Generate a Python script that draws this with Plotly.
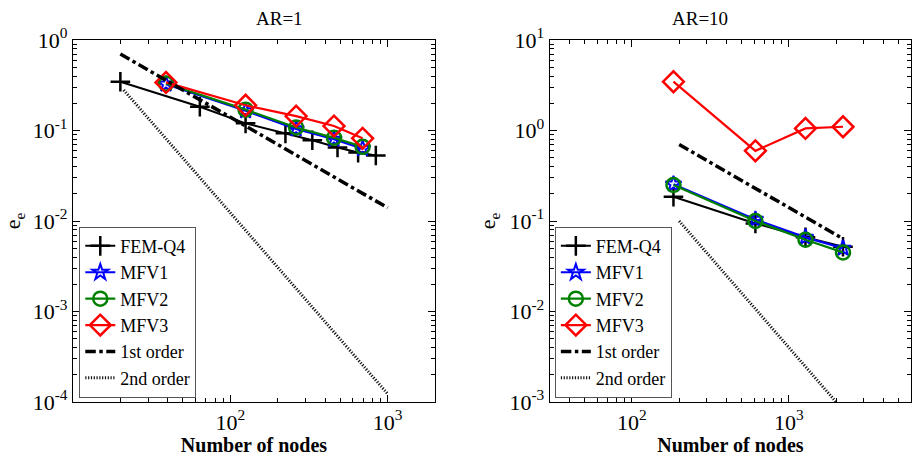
import plotly.graph_objects as go

# ---------------- data ----------------
# AR = 1
n_fem_ar1 = [20, 64, 125, 224, 332, 480, 649, 841]
e_fem_ar1 = [0.346, 0.183, 0.120, 0.093, 0.078, 0.065, 0.057, 0.053]
n_mfv_ar1 = [39, 125, 262, 456, 693]
e_mfv1_ar1 = [0.325, 0.165, 0.104, 0.080, 0.063]
e_mfv2_ar1 = [0.330, 0.170, 0.108, 0.083, 0.066]
e_mfv3_ar1 = [0.340, 0.190, 0.144, 0.112, 0.082]
n_o1_ar1 = [20, 1000]
e_o1_ar1 = [0.7, 0.014]
n_o2_ar1 = [21, 1000]
e_o2_ar1 = [0.28, 1.23e-4]

# AR = 10
n_ar10 = [184, 612, 1276, 2213]
e_fem_ar10 = [0.185, 0.094, 0.066, 0.052]
e_mfv1_ar10 = [0.255, 0.104, 0.066, 0.050]
e_mfv2_ar10 = [0.250, 0.100, 0.062, 0.045]
e_mfv3_ar10 = [3.46, 0.596, 1.055, 1.10]
n_o1_ar10 = [200, 2200]
e_o1_ar10 = [0.7, 0.064]
n_o2_ar10 = [200, 2000]
e_o2_ar10 = [0.1, 0.001]

names = ["FEM-Q4", "MFV1", "MFV2", "MFV3", "1st order", "2nd order"]
titles = ["AR=1", "AR=10"]
x_label = "Number of nodes"
y_label = "e<sub>e</sub>"

FONT = "Liberation Serif"

styles = [
    dict(line=dict(color="black", width=2), marker=dict(symbol="cross-thin-open", size=14, line=dict(color="black", width=2.5))),
    dict(line=dict(color="#0000ff", width=2.2), marker=dict(symbol="star-open", size=12, color="#0000ff", line=dict(color="#0000ff", width=2))),
    dict(line=dict(color="#008000", width=2.2), marker=dict(symbol="circle-open", size=14, color="#008000", line=dict(color="#008000", width=2.5))),
    dict(line=dict(color="#ff0000", width=2.2), marker=dict(symbol="diamond-open", size=16, color="#ff0000", line=dict(color="#ff0000", width=2.5))),
    dict(line=dict(color="black", width=3.5, dash="dashdot"), mode="lines"),
    dict(line=dict(color="#111111", width=3, dash="1.2px,1.6px"), mode="lines"),
]

fig = go.Figure()

panels = [
    dict(xa="x", ya="y", legend="legend", mxa="x3", mya="y3",
         series=[(n_fem_ar1, e_fem_ar1), (n_mfv_ar1, e_mfv1_ar1), (n_mfv_ar1, e_mfv2_ar1),
                 (n_mfv_ar1, e_mfv3_ar1), (n_o1_ar1, e_o1_ar1), (n_o2_ar1, e_o2_ar1)]),
    dict(xa="x2", ya="y2", legend="legend2", mxa="x4", mya="y4",
         series=[(n_ar10, e_fem_ar10), (n_ar10, e_mfv1_ar10), (n_ar10, e_mfv2_ar10),
                 (n_ar10, e_mfv3_ar10), (n_o1_ar10, e_o1_ar10), (n_o2_ar10, e_o2_ar10)]),
]

for p in panels:
    # invisible helper trace so that the minor-tick overlay axes get drawn
    xs0, ys0 = p["series"][0]
    fig.add_trace(go.Scatter(x=xs0, y=ys0, mode="markers", marker=dict(opacity=0), showlegend=False,
                             hoverinfo="skip", xaxis=p["mxa"], yaxis=p["mya"]))
    for name, (xs, ys), st in zip(names, p["series"], styles):
        kw = dict(st)
        mode = kw.pop("mode", "lines+markers")
        fig.add_trace(go.Scatter(x=xs, y=ys, name=name, mode=mode, xaxis=p["xa"], yaxis=p["ya"],
                                 legend=p["legend"], **kw))


def sup(e):
    return "10<sup>%s</sup>" % (str(e))


def minor_vals(lo, hi):
    vals = []
    for d in range(lo, hi):
        for m in range(2, 10):
            vals.append(m * 10 ** d)
    return vals


axis_common = dict(
    type="log", showline=True, linecolor="black", linewidth=1.2, mirror="allticks",
    ticks="inside", ticklen=7, tickcolor="black", showgrid=False, zeroline=False,
    tickfont=dict(family=FONT, size=22, color="black"),
)
minor_axis = dict(
    type="log", showline=False, mirror="allticks",
    ticks="inside", ticklen=4, tickwidth=1, tickcolor="black", showgrid=False, zeroline=False,
    showticklabels=False, tickmode="array",
)

xtitle = dict(text="<b>%s</b>" % x_label, font=dict(family=FONT, size=20, color="black"), standoff=2)
ytitle = dict(text=y_label, font=dict(family=FONT, size=22, color="black"), standoff=7)

x1_range = [1, 3.30103]
y1_range = [-4, 0]
x2_range = [1.4771, 3.77815]
y2_range = [-3, 1]

fig.update_layout(
    xaxis=dict(domain=[0, 0.432], range=x1_range, tickmode="array",
               tickvals=[100, 1000], ticktext=[sup(2), sup(3)],
               title=xtitle, anchor="y", **axis_common),
    yaxis=dict(domain=[0, 1], range=y1_range, tickmode="array",
               tickvals=[1e-4, 1e-3, 1e-2, 1e-1, 1], ticktext=[sup(-4), sup(-3), sup(-2), sup(-1), sup(0)],
               title=ytitle, anchor="x", **axis_common),
    xaxis2=dict(domain=[0.569, 1], range=x2_range, tickmode="array",
                tickvals=[100, 1000], ticktext=[sup(2), sup(3)],
                title=xtitle, anchor="y2", **axis_common),
    yaxis2=dict(domain=[0, 1], range=y2_range, tickmode="array",
                tickvals=[1e-3, 1e-2, 1e-1, 1, 10], ticktext=[sup(-3), sup(-2), sup(-1), sup(0), sup(1)],
                title=ytitle, anchor="x2", **axis_common),
    # overlay axes that carry the minor ticks
    xaxis3=dict(overlaying="x", anchor="y3", range=x1_range, tickvals=minor_vals(1, 4), **minor_axis),
    yaxis3=dict(overlaying="y", anchor="x3", range=y1_range, tickvals=minor_vals(-4, 0), **minor_axis),
    xaxis4=dict(overlaying="x2", anchor="y4", range=x2_range, tickvals=minor_vals(1, 4), **minor_axis),
    yaxis4=dict(overlaying="y2", anchor="x4", range=y2_range, tickvals=minor_vals(-3, 1), **minor_axis),
)

legend_common = dict(
    bgcolor="white", bordercolor="#555555", borderwidth=1,
    font=dict(family=FONT, size=18, color="black"),
    xanchor="left", yanchor="bottom", itemwidth=30, tracegroupgap=0,
)

fig.update_layout(
    width=913, height=456,
    margin=dict(l=73, r=2, t=40, b=54),
    paper_bgcolor="white", plot_bgcolor="white",
    showlegend=True,
    legend=dict(x=0.0075, y=0.012, **legend_common),
    legend2=dict(x=0.575, y=0.012, **legend_common),
    annotations=[
        dict(text=titles[0], x=0.216, y=1.0, xref="paper", yref="paper", yanchor="middle", yshift=22,
             showarrow=False, font=dict(family=FONT, size=19, color="black")),
        dict(text=titles[1], x=0.7845, y=1.0, xref="paper", yref="paper", yanchor="middle", yshift=22,
             showarrow=False, font=dict(family=FONT, size=19, color="black")),
    ],
)

fig.write_html("out.html", config={"displayModeBar": False},
               post_script="document.body.style.margin='0px';")
